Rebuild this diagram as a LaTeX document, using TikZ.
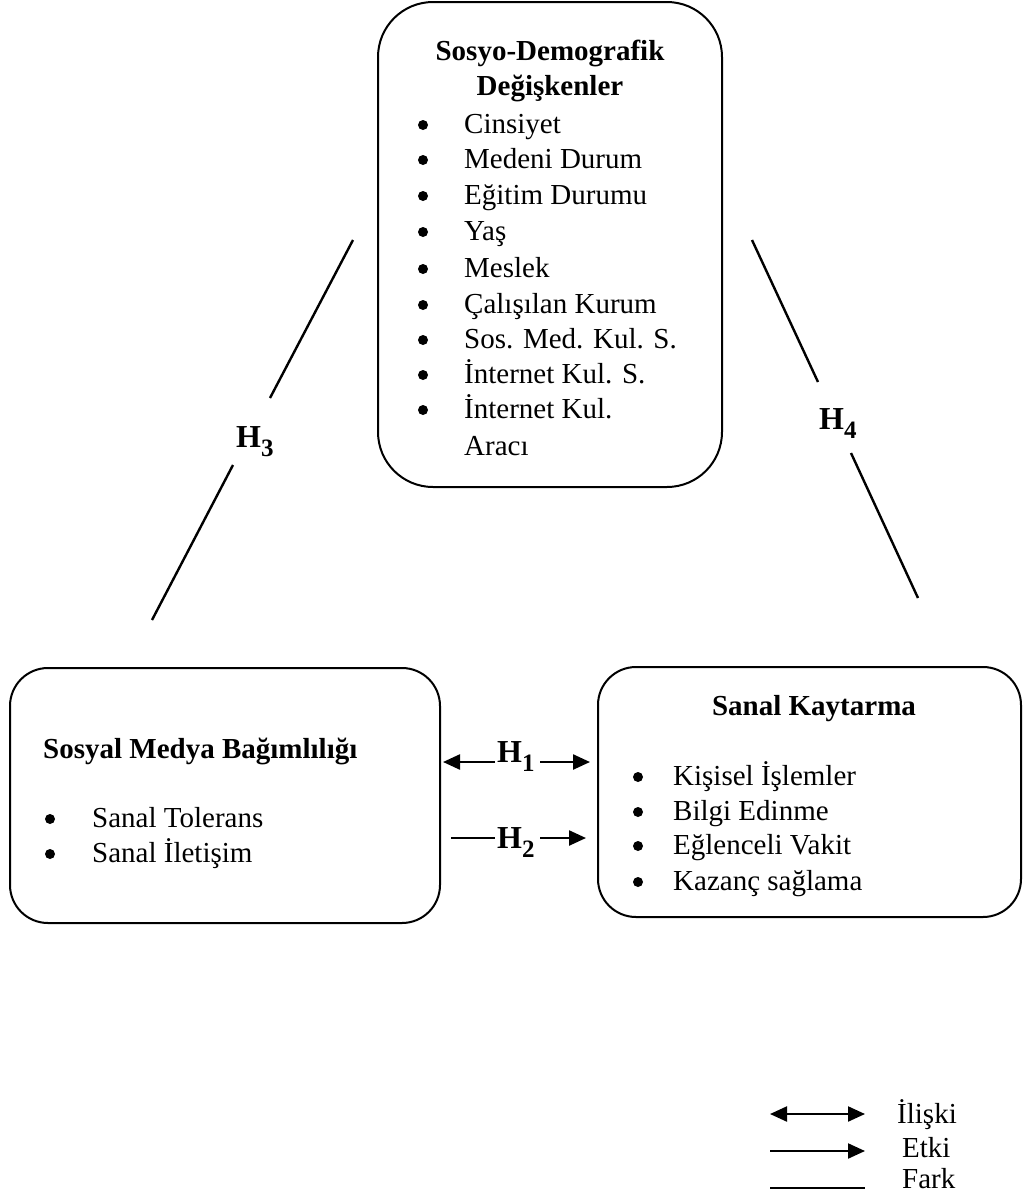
\documentclass[tikz,border=0pt]{standalone}
\usepackage{fontspec}
\setmainfont{Liberation Serif}
\usetikzlibrary{arrows.meta}
\newcommand{\hsub}[1]{\raisebox{-9pt}{\fontsize{25}{25}\selectfont\bfseries #1}}
\begin{document}
\begin{tikzpicture}[x=1pt,y=-1pt,
  box/.style={draw,line width=2pt,rounded corners=#1},
  txt/.style={anchor=base west,inner sep=0pt,font=\fontsize{29}{35}\selectfont},
  ttl/.style={anchor=base,inner sep=0pt,font=\fontsize{29}{35}\selectfont\bfseries},
  hlab/.style={anchor=base west,inner sep=0pt,font=\fontsize{32}{36}\selectfont\bfseries},
  conn/.style={line width=2.4pt},
  arr/.style={line width=2.4pt,-{Triangle[length=17pt,width=15pt]}},
  darr/.style={line width=2.2pt,{Triangle[length=17pt,width=15pt]}-{Triangle[length=17pt,width=15pt]}}]
\useasboundingbox (0,0) rectangle (1024,1197);
% boxes
\draw[box=55pt] (378,2) rectangle (722,487);
\draw[box=38pt] (10,668) rectangle (440,923);
\draw[box=38pt] (598,667) rectangle (1021,917);
% top box text
\node[ttl] (t1) at (550,60) {Sosyo-Demografik};
\node[ttl] (t2) at (550,95) {Değişkenler};
\foreach \y/\s [count=\i] in {133/Cinsiyet,168/Medeni Durum,204/Eğitim Durumu,240/Yaş,277/Meslek,313/Çalışılan Kurum,348/Sos. Med. Kul. S.,383/İnternet Kul. S.,418/İnternet Kul.}{
  \fill (423,\y-8) circle (5pt);
  \node[txt] (ti\i) at (464,\y) {\s};
}
\node[txt] (ti10) at (464,455) {Aracı};
% left box text
\node[txt,font=\fontsize{29}{35}\selectfont\bfseries] (l0) at (43,758) {Sosyal Medya Bağımlılığı};
\fill (50,819) circle (5pt);
\node[txt] (l1) at (92,827) {Sanal Tolerans};
\fill (50,854) circle (5pt);
\node[txt] (l2) at (92,862) {Sanal İletişim};
% right box text
\node[ttl] (r0) at (814,715) {Sanal Kaytarma};
\foreach \y/\s [count=\i] in {785/Kişisel İşlemler,820/Bilgi Edinme,854/Eğlenceli Vakit,890/Kazanç sağlama}{
  \fill (638,\y-8) circle (5pt);
  \node[txt] (ri\i) at (673,\y) {\s};
}
% H labels
\node[hlab] (h3) at (236,447) {H\hsub{3}};
\node[hlab] (h4) at (819,429) {H\hsub{4}};
\node[hlab] (h1) at (497,762) {H\hsub{1}};
\node[hlab] (h2) at (497,848) {H\hsub{2}};
% H3 / H4 lines
\coordinate (a1) at (353,240); \coordinate (a2) at (270,398);
\coordinate (a3) at (233,465); \coordinate (a4) at (152,620);
\coordinate (b1) at (752,240); \coordinate (b2) at (818,382);
\coordinate (b3) at (851,453); \coordinate (b4) at (918,598);
\draw[conn] (a1) -- (a2);
\draw[conn] (a3) -- (a4);
\draw[conn] (b1) -- (b2);
\draw[conn] (b3) -- (b4);
% H1 / H2 arrows
\coordinate (h1l) at (495,762); \coordinate (h1lt) at (443,762);
\coordinate (h1r) at (540,762); \coordinate (h1rt) at (590,762);
\coordinate (h2l) at (451,838); \coordinate (h2le) at (495,838);
\coordinate (h2r) at (540,838); \coordinate (h2rt) at (586,838);
\draw[arr] (h1l) -- (h1lt);
\draw[arr] (h1r) -- (h1rt);
\draw[conn] (h2l) -- (h2le);
\draw[arr] (h2r) -- (h2rt);
% legend
\coordinate (g1a) at (770,1114); \coordinate (g1b) at (865,1114);
\coordinate (g2a) at (770,1151); \coordinate (g2b) at (865,1151);
\coordinate (g3a) at (770,1188); \coordinate (g3b) at (865,1188);
\draw[darr] (g1a) -- (g1b);
\draw[arr,line width=2.2pt] (g2a) -- (g2b);
\draw[conn,line width=2.2pt] (g3a) -- (g3b);
\node[txt] (k1) at (897,1123) {İlişki};
\node[txt] (k2) at (902,1157) {Etki};
\node[txt] (k3) at (902,1188) {Fark};
\end{tikzpicture}
\end{document}
